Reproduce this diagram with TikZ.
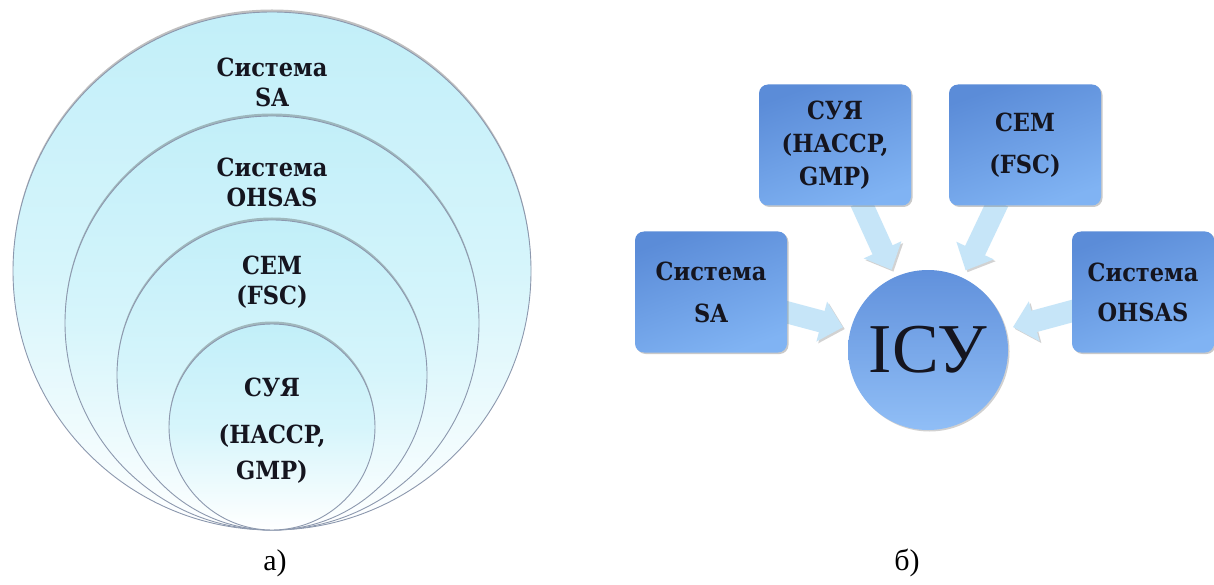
\documentclass[tikz,border=0pt]{standalone}
\usepackage{fontspec}
\newfontfamily\lblfont{DejaVu Serif Condensed}
\newfontfamily\capfont{Liberation Serif}
\usetikzlibrary{shadows,arrows.meta,backgrounds}
\definecolor{cyanA}{HTML}{C2EFF9}
\definecolor{cyanB}{HTML}{D6F5FB}
\definecolor{ringC}{HTML}{8C98AE}
\definecolor{boxTop}{HTML}{5B8CD8}
\definecolor{boxBot}{HTML}{80B3F3}
\definecolor{circTop}{HTML}{6191DC}
\definecolor{circBot}{HTML}{90BEF6}
\definecolor{arrC}{HTML}{C6E5F8}
\definecolor{txtC}{HTML}{15151F}
\begin{document}
\begin{tikzpicture}[x=1pt,y=1pt,
  ring/.style={circle, inner sep=0pt, outer sep=0pt, draw=ringC, line width=0.9pt,
    top color=cyanA, bottom color=white, middle color=cyanB,
    drop shadow={shadow xshift=0pt, shadow yshift=2.5pt, opacity=0.35, fill=black!70}},
  lbl/.style={font=\lblfont\bfseries\fontsize{25}{30}\selectfont, align=center, text=txtC, inner sep=0pt},
  sbox/.style={rectangle, rounded corners=9pt, minimum width=152pt, minimum height=121pt,
    inner sep=0pt, outer sep=0pt, top color=boxTop, bottom color=boxBot, shading angle=20,
    drop shadow={shadow xshift=1.5pt, shadow yshift=-1.5pt, opacity=0.35, fill=black!60},
    font=\lblfont\bfseries\fontsize{25}{42}\selectfont, align=center, text=txtC},
  hub/.style={circle, inner sep=0pt, outer sep=0pt, minimum size=160pt,
    top color=circTop, bottom color=circBot,
    drop shadow={shadow xshift=1.5pt, shadow yshift=-1.5pt, opacity=0.3, fill=black!60},
    font=\capfont\fontsize{70}{70}\selectfont, text=txtC},
  flow/.style={draw=arrC, line width=22pt, -{Triangle[width=40pt,length=22pt]},
    shorten >=8pt, shorten <=-4pt,
    preaction={draw=black!50, opacity=0.35, transform canvas={shift={(1.8pt,-1.8pt)}}}},
  captxt/.style={font=\capfont\fontsize{30}{30}\selectfont, text=black}
]
\useasboundingbox (0,0) rectangle (1214,-585);

% ---- a) nested circles ----
\node[ring, minimum size=518pt] (c1) at (272,-271) {};
\node[ring, minimum size=414pt] (c2) at (272,-323) {};
\node[ring, minimum size=310pt] (c3) at (272,-375) {};
\node[ring, minimum size=206pt] (c4) at (272,-427) {};

\node[lbl] (t1) at (272,-82) {Система\\SA};
\node[lbl] (t2) at (272,-182) {Система\\OHSAS};
\node[lbl] (t3) at (272,-282) {СЕМ\\(FSC)};
\node[lbl, font=\lblfont\bfseries\fontsize{25}{36}\selectfont] (t4) at (272,-431) {СУЯ\\[11pt](HACCP,\\GMP)};

\node[captxt] (capa) at (275,-563) {а)};

% ---- b) hub ----
\node[hub] (icy) at (928,-350) {ІСУ};
\node[sbox] (sa) at (711,-292) {Система\\SA};
\node[sbox, font=\lblfont\bfseries\fontsize{25}{33}\selectfont] (suya) at (835,-145) {СУЯ\\(HACCP,\\GMP)};
\node[sbox] (cem) at (1025,-145) {СЕМ\\(FSC)};
\node[sbox, minimum width=142pt, font=\lblfont\bfseries\fontsize{25}{40}\selectfont] (ohsas) at (1143,-292) {Система\\OHSAS};

\begin{scope}[on background layer]
  \fill[white] (0,0) rectangle (1214,-585);
  \draw[flow] (sa) -- (icy);
  \draw[flow] (suya) -- (icy);
  \draw[flow] (cem) -- (icy);
  \draw[flow] (ohsas) -- (icy);
\end{scope}

\node[captxt] (capb) at (907,-563) {б)};
\end{tikzpicture}
\end{document}
